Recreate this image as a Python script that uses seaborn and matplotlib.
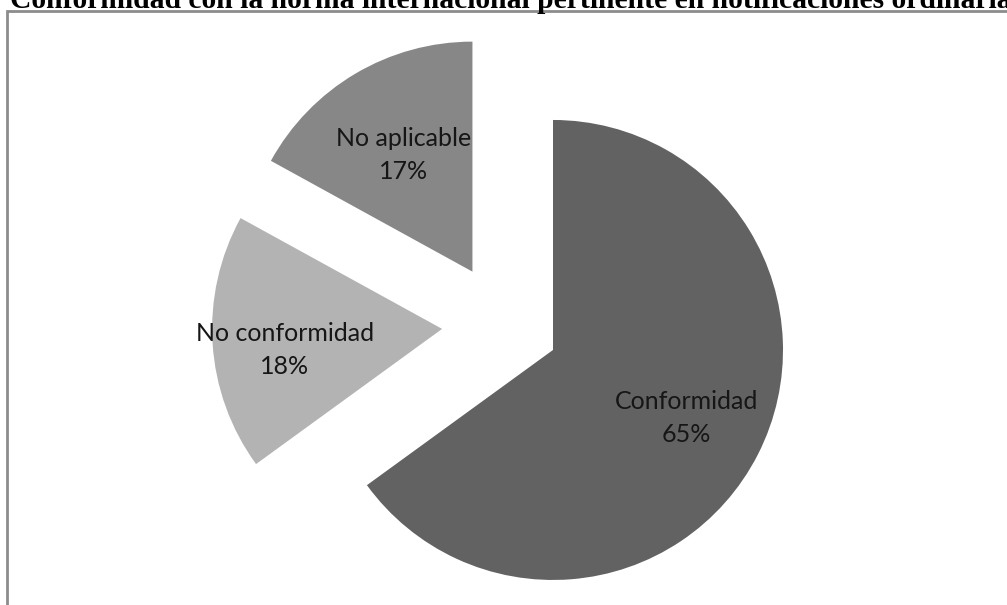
import numpy as np
import matplotlib
matplotlib.use("Agg")
import matplotlib.pyplot as plt
import seaborn as sns
from matplotlib.patches import Rectangle

# data
categories = ["Conformidad", "No conformidad", "No aplicable"]
values = [65, 18, 17]
colors = ["#626262", "#b3b3b3", "#878787"]
title = "Conformidad con la norma internacional pertinente en notificaciones ordinarias"

sns.set_theme(style="white")
plt.rcParams['font.family'] = ['Lato', 'DejaVu Sans']

W, H = 1007, 605
fig = plt.figure(figsize=(W / 100, H / 100), dpi=100)
ax = fig.add_axes([0, 0, 1, 1])

radius = 230
center = (504, H - 325)
explode = [55, 62, 62]
labels = [f"{c}\n{v}%" for c, v in zip(categories, values)]

wedges, texts = ax.pie(values, labels=labels, colors=colors, startangle=90,
                       counterclock=False, radius=radius, center=center,
                       explode=explode, labeldistance=0.65, frame=True,
                       wedgeprops=dict(linewidth=0),
                       textprops=dict(fontsize=18, color="#161616",
                                      ha='center', va='center', linespacing=1.5))
ax.set_xlim(0, W)
ax.set_ylim(0, H)
ax.set_aspect('equal')
ax.axis('off')

# per-slice label distance and angle nudge to follow the reference placement
dists = [0.65, 0.69, 0.59]
nudges = [0, 4, 0]
for w, t, d, n in zip(wedges, texts, dists, nudges):
    ang = np.deg2rad((w.theta1 + w.theta2) / 2 + n)
    cx, cy = w.center
    t.set_position((cx + d * radius * np.cos(ang), cy + d * radius * np.sin(ang)))
    t.set_ha('center')
    t.set_va('center')

# chart frame (runs off the right and bottom edges)
ax.add_patch(Rectangle((7, -20), 1100, H - 11 + 20, fill=False,
                       edgecolor="#8c8c8c", linewidth=2, clip_on=False))

ax.text(10, H - 8, title, family=['Liberation Serif', 'DejaVu Serif'],
        fontweight='bold', fontsize=21.3, color="black", ha='left', va='baseline')

fig.savefig("out.png", dpi=100)
